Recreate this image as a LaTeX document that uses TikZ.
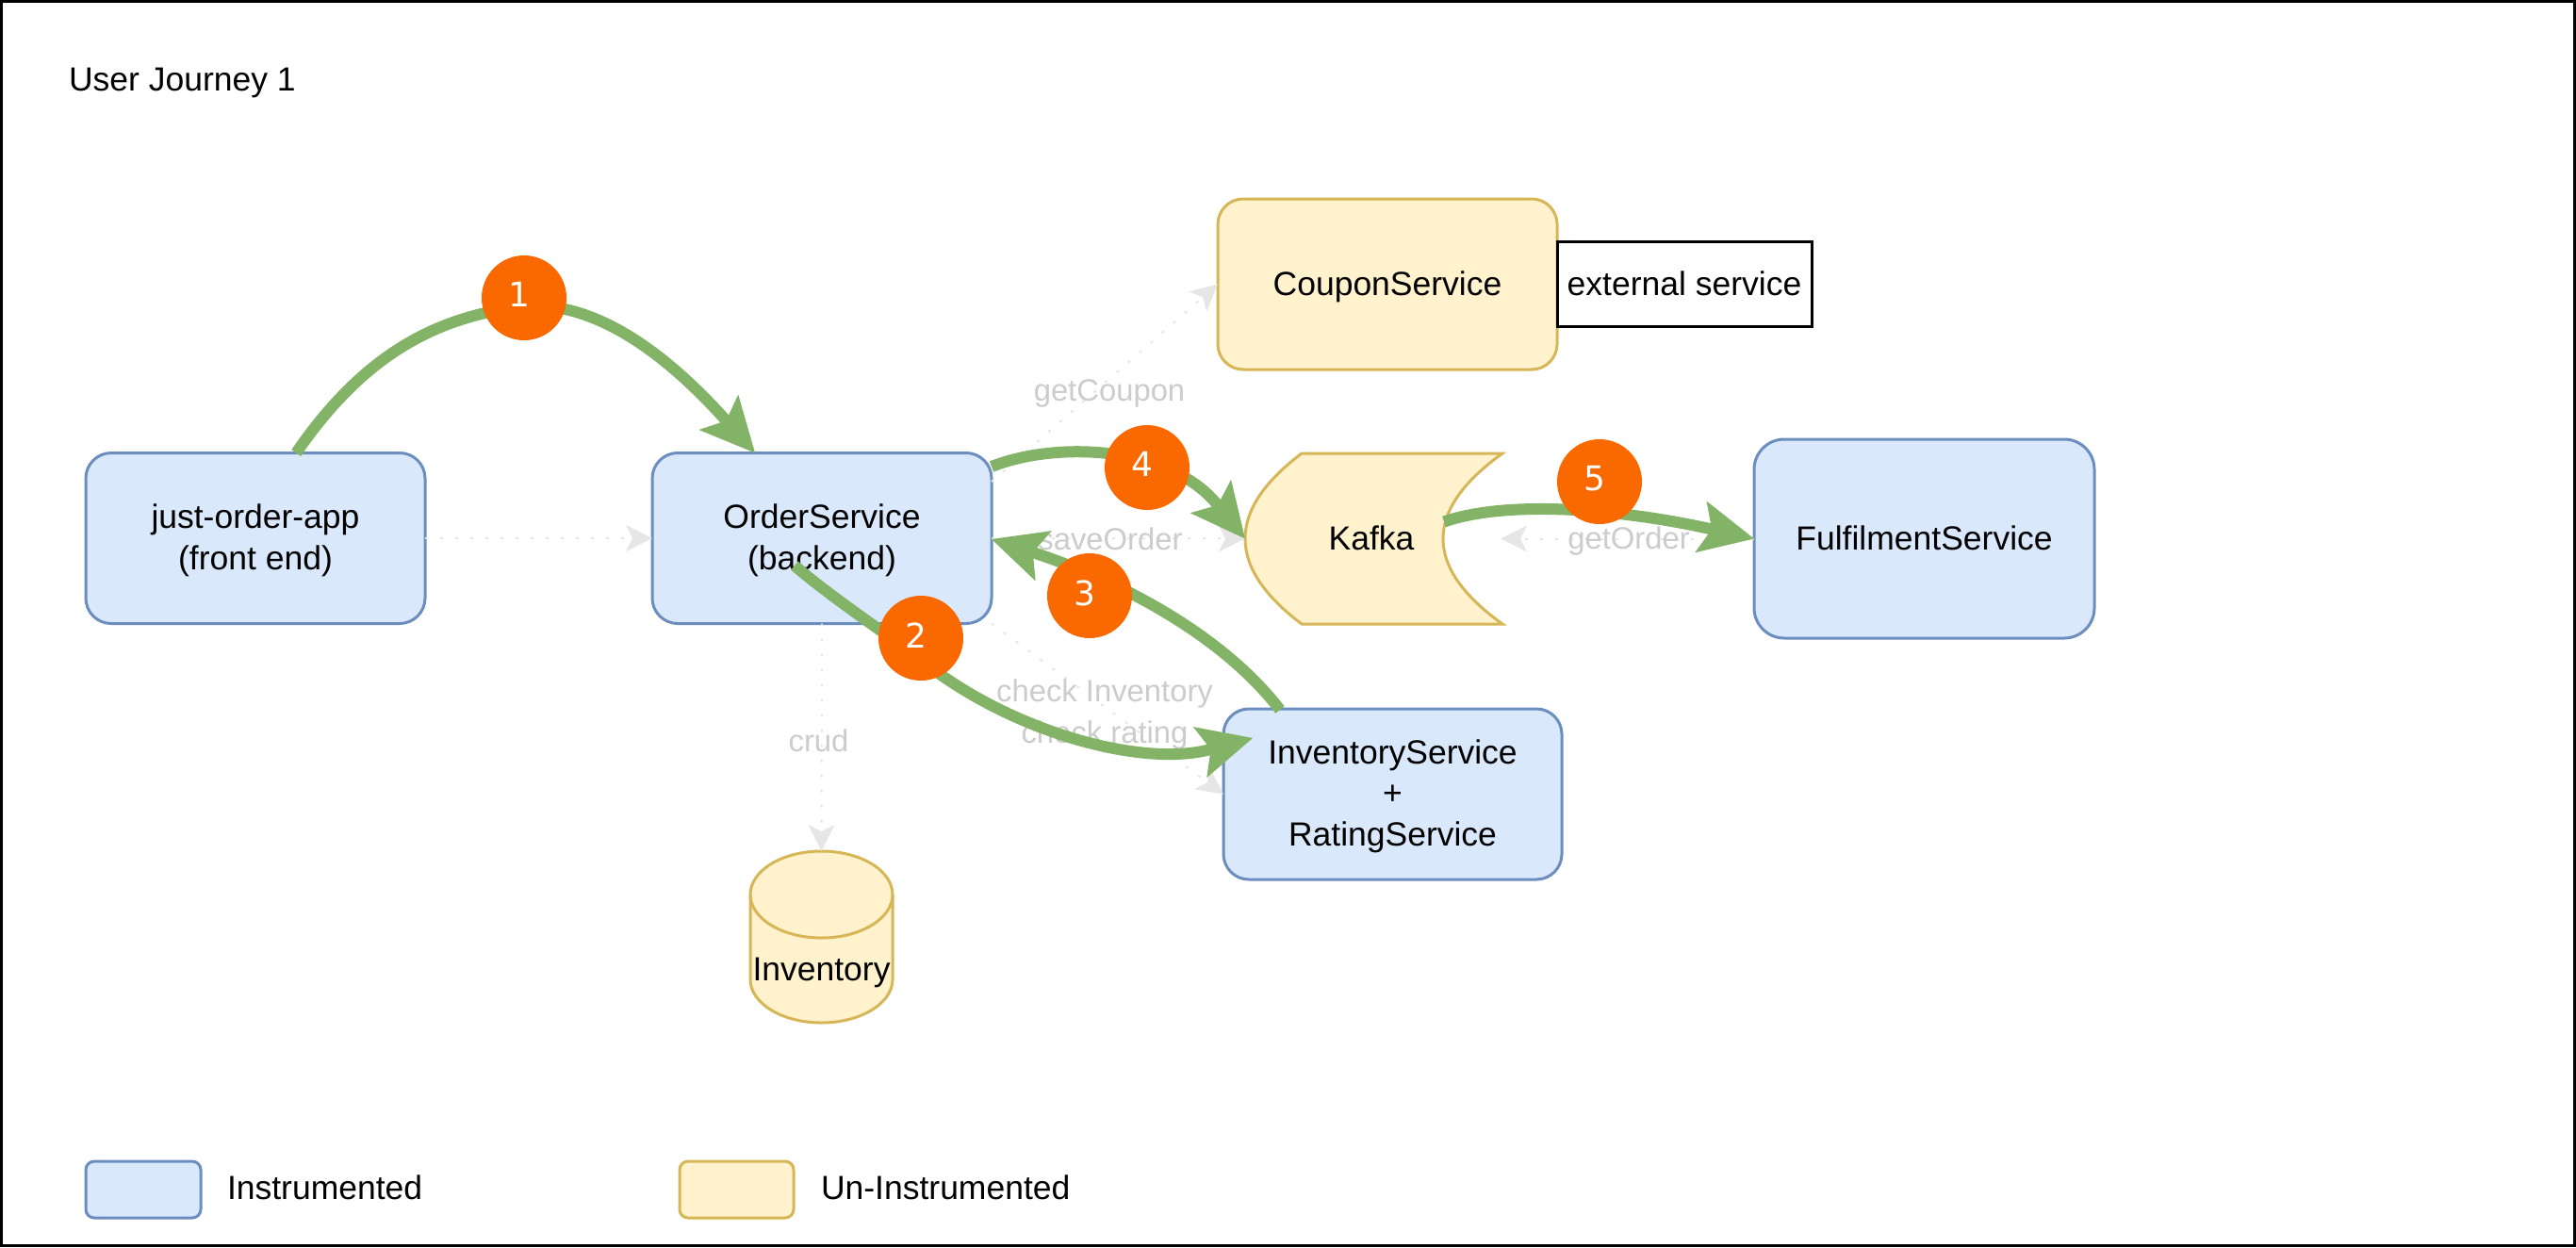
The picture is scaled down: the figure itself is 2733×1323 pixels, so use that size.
\documentclass[tikz,border=0pt]{standalone}
\usepackage{fontspec}
\setmainfont{Liberation Sans}
\newfontfamily\digitfont{DejaVu Sans}
\usetikzlibrary{arrows.meta,calc}
\definecolor{bluefill}{HTML}{DAE8FC}
\definecolor{blueline}{HTML}{6C8EBF}
\definecolor{yellowfill}{HTML}{FFF2CC}
\definecolor{yellowline}{HTML}{D6B656}
\definecolor{greenline}{HTML}{82B366}
\definecolor{badgefill}{HTML}{FA6800}
\definecolor{ghostline}{HTML}{E6E6E6}
\definecolor{ghosttext}{HTML}{CCCCCC}
\newcommand{\dgt}[1]{\raisebox{3.2pt}{#1}\rule{5pt}{0pt}}
\newcommand{\topgap}{\rule{0pt}{15pt}}
\tikzset{
  txt/.style={font=\fontsize{17.75}{21.75}\selectfont,align=center,inner sep=0pt,outer sep=0pt},
  oneline/.style={text height=16pt,text depth=3.8pt},
  bluebox/.style={txt,rectangle,draw=blueline,fill=bluefill,line width=1.5pt,rounded corners=13.5pt},
  yellowbox/.style={txt,rectangle,draw=yellowline,fill=yellowfill,line width=1.5pt,rounded corners=13.5pt},
  yellowshape/.style={draw=yellowline,fill=yellowfill,line width=1.5pt},
  anchorbox/.style={rectangle,inner sep=0pt,outer sep=0pt},
  ghost/.style={draw=ghostline,line width=1pt,dash pattern=on 1.5pt off 6.5pt,
     -{Stealth[length=14pt,width=14pt,inset=3.5pt,color=ghostline,fill=ghostline,line width=0pt]}},
  ghostlabel/.style={txt,text=ghosttext,font=\fontsize{16.4}{21.75}\selectfont},
  flow/.style={draw=greenline,line width=6pt,
     -{Stealth[length=29pt,width=28pt,inset=6pt,color=greenline,fill=greenline,line width=0pt]}},
  badge/.style={circle,fill=badgefill,text=white,minimum size=45pt,inner sep=0pt,
     font=\digitfont\fontsize{18}{20}\selectfont},
}
\begin{document}
\begin{tikzpicture}[x=0.5pt,y=-0.5pt]
\useasboundingbox (0,0) rectangle (2733,1323);
\draw[black,line width=1.5pt,fill=white] (1.5,1.5) rectangle (2731.5,1321.5);

\node[txt,oneline,anchor=west] (title) at (73,84) {User Journey 1};

% boxes
\node[bluebox,minimum width=180pt,minimum height=90.5pt] (app) at (271,571) {\topgap just-order-app\\(front end)};
\node[bluebox,minimum width=180pt,minimum height=90.5pt] (order) at (872,571) {\topgap OrderService\\(backend)};
\node[yellowbox,oneline,minimum width=180pt,minimum height=90.5pt] (coupon) at (1472,301.5) {CouponService};
\node[txt,oneline,rectangle,draw=black,line width=1.5pt,fill=white,minimum width=135pt,minimum height=45pt] (external) at (1787,301) {external service};
\node[bluebox,oneline,rounded corners=16pt,minimum width=180.5pt,minimum height=105.5pt] (fulfil) at (2041.5,571.5) {FulfilmentService};
\node[bluebox,minimum width=179.5pt,minimum height=90.5pt] (invsvc) at (1477.5,842.5) {\topgap InventoryService\\+\\RatingService};

% Kafka
\path[yellowshape] (1381,481) -- (1594,481) .. controls (1510,541.3) and (1510,601.7) .. (1594,662)
   -- (1381,662) .. controls (1301,601.7) and (1301,541.3) .. (1381,481) -- cycle;
\node[anchorbox,minimum width=136.5pt,minimum height=90.5pt] (kafka) at (1457.5,571.5) {};
\node[txt,oneline] (kafkalabel) at (1455,571) {Kafka};

% Inventory cylinder
\path[yellowshape] (796,949) .. controls (796,923.6) and (829.8,903) .. (871.5,903)
   .. controls (913.2,903) and (947,923.6) .. (947,949) -- (947,1039)
   .. controls (947,1064.4) and (913.2,1085) .. (871.5,1085)
   .. controls (829.8,1085) and (796,1064.4) .. (796,1039) -- cycle;
\draw[draw=yellowline,line width=1.5pt] (796,949) .. controls (796,974.4) and (829.8,995) .. (871.5,995)
   .. controls (913.2,995) and (947,974.4) .. (947,949);
\node[anchorbox,minimum width=75.5pt,minimum height=91pt] (inv) at (871.5,994) {};
\node[txt,oneline] (invlabel) at (871.5,1028.5) {Inventory};

% legend
\node[bluebox,rounded corners=4.5pt,minimum width=61pt,minimum height=30pt] (legblue) at (152,1262) {};
\node[yellowbox,rounded corners=4.5pt,minimum width=60.5pt,minimum height=30pt] (legyellow) at (781.5,1262) {};
\node[txt,oneline,anchor=west] (legbluetext) at (241,1260) {Instrumented};
\node[txt,oneline,anchor=west] (legyellowtext) at (871,1260) {Un-Instrumented};

% ghost connectors
\draw[ghost] (app.east) -- (order.west);
\draw[ghost] ($(order.east)+(0,-60)$) -- (coupon.west);
\draw[ghost] (order.east) -- (kafka.west);
\draw[ghost] (order.south east) -- (invsvc.west);
\draw[ghost] (order.south) -- (inv.north);
\coordinate (kafkaright) at ($(kafka.east)+(-2,0)$);
\draw[ghost] (fulfil.west) -- (kafkaright);

% ghost labels
\node[ghostlabel,oneline] (lblcoupon) at (1177,413) {getCoupon};
\node[ghostlabel,oneline] (lblsave) at (1178,571) {saveOrder};
\node[ghostlabel,oneline] (lblget) at (1728,570) {getOrder};
\node[ghostlabel,oneline] (lblcrud) at (868.5,785) {crud};
\node[ghostlabel] (lblcheck) at (1172,758) {check Inventory\\check rating};

% flows
\draw[flow] ($(app.north west)!0.62!(app.north east)$) .. controls (390,370) and (470,335) .. (556,325)
   .. controls (640,318) and (720,390) .. ($(order.north west)!0.303!(order.north east)$);
\draw[flow] ($(order.center)+(-29,29)$) .. controls (880,632) and (930,665) .. (977,700)
   .. controls (1070,775) and (1210,815) .. ($(invsvc.north west)+(31,31)$);
\draw[flow] ($(invsvc.north west)+(60,1)$) .. controls (1290,665) and (1170,610) .. ($(order.east)+(0,1)$);
\draw[flow] ($(order.east)+(0,-76)$) .. controls (1120,468) and (1240,472) .. (kafka.west);
\draw[flow] ($(kafka.east)+(-62,-18)$) .. controls (1600,530) and (1720,540) .. (fulfil.west);

% badges
\node[badge] (b1) at (556,316) {\dgt{1}};
\node[badge] (b2) at (977,677) {\dgt{2}};
\node[badge] (b3) at (1156,632) {\dgt{3}};
\node[badge] (b4) at (1217,496) {\dgt{4}};
\node[badge] (b5) at (1697,511) {\dgt{5}};
\end{tikzpicture}
\end{document}
